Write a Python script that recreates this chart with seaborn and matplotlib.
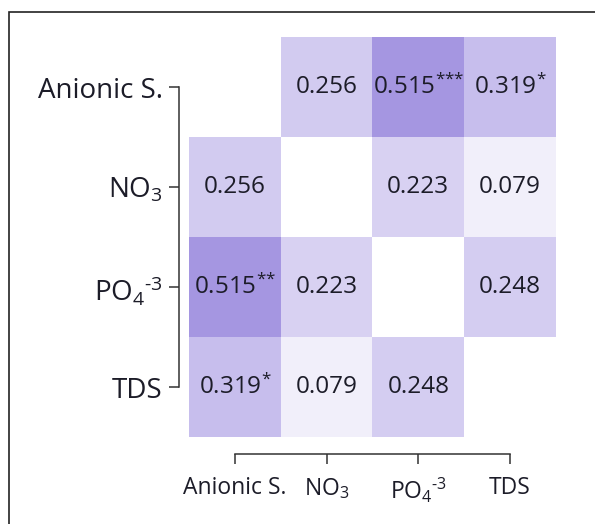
import numpy as np
import pandas as pd
import matplotlib
matplotlib.use('Agg')
import matplotlib.pyplot as plt
from matplotlib.colors import LinearSegmentedColormap
from matplotlib.patches import Rectangle
import seaborn as sns

# variables and correlation values (diagonal left empty)
variables = ['Anionic S.', 'NO3', 'PO4', 'TDS']
tick_labels = ['Anionic S.', r'NO$_3$', r'PO$_4$$^{\text{-}3}$', 'TDS']
r_anionic = [np.nan, 0.256, 0.515, 0.319]
r_no3 = [0.256, np.nan, 0.223, 0.079]
r_po4 = [0.515, 0.223, np.nan, 0.248]
r_tds = [0.319, 0.079, 0.248, np.nan]

# significance stars as printed in each cell
stars_anionic = ['', '', '***', '*']
stars_no3 = ['', '', '', '']
stars_po4 = ['**', '', '', '']
stars_tds = ['*', '', '', '']

df = pd.DataFrame([r_anionic, r_no3, r_po4, r_tds], index=variables, columns=variables)
stars = [stars_anionic, stars_no3, stars_po4, stars_tds]

labels = df.copy().astype(object)
for i in range(len(variables)):
    for j in range(len(variables)):
        v = df.iloc[i, j]
        s = stars[i][j]
        txt = '' if np.isnan(v) else f'{v:.3f}'
        if s:
            txt += r'$^{\text{' + s + '}}$'
        labels.iloc[i, j] = txt

sns.set_style('white')
plt.rcParams['font.family'] = ['Open Sans', 'DejaVu Sans']
plt.rcParams['mathtext.fontset'] = 'custom'
plt.rcParams['mathtext.rm'] = 'Open Sans'
plt.rcParams['mathtext.it'] = 'Open Sans'
plt.rcParams['mathtext.default'] = 'regular'

cmap = LinearSegmentedColormap.from_list('purp', ['#ffffff', '#5033c5'])

fig = plt.figure(figsize=(5.95, 5.24), dpi=100)
ax = fig.add_axes([0.318, 0.166, 0.616, 0.763])

sns.heatmap(df, mask=df.isna(), annot=labels.values, fmt='', cmap=cmap,
            vmin=0, vmax=1, cbar=False, ax=ax,
            annot_kws={'fontsize': 17.5, 'color': '#1c1c28'})

for side in ['left', 'bottom']:
    ax.spines[side].set_visible(True)
    ax.spines[side].set_color('#333333')
    ax.spines[side].set_linewidth(1.1)
sns.despine(ax=ax, offset={'left': 7, 'bottom': 12}, trim=True)

ax.set_xticklabels(tick_labels, rotation=0)
ax.set_yticklabels(tick_labels, rotation=0)
ax.set_xlabel('')
ax.set_ylabel('')
ax.tick_params(axis='both', left=True, bottom=True, length=7, width=1.1,
               color='#333333', direction='out', labelcolor='#1c1c28')
ax.tick_params(axis='y', pad=5, labelsize=20)
ax.tick_params(axis='x', pad=9, labelsize=16.5)

# frame line around the screenshot (top and left edges show)
fig.add_artist(Rectangle((0.015, -0.1), 1.2, 1.077, transform=fig.transFigure,
                         fill=False, edgecolor='#222222', linewidth=1.2))

fig.savefig('out.png', dpi=100)
